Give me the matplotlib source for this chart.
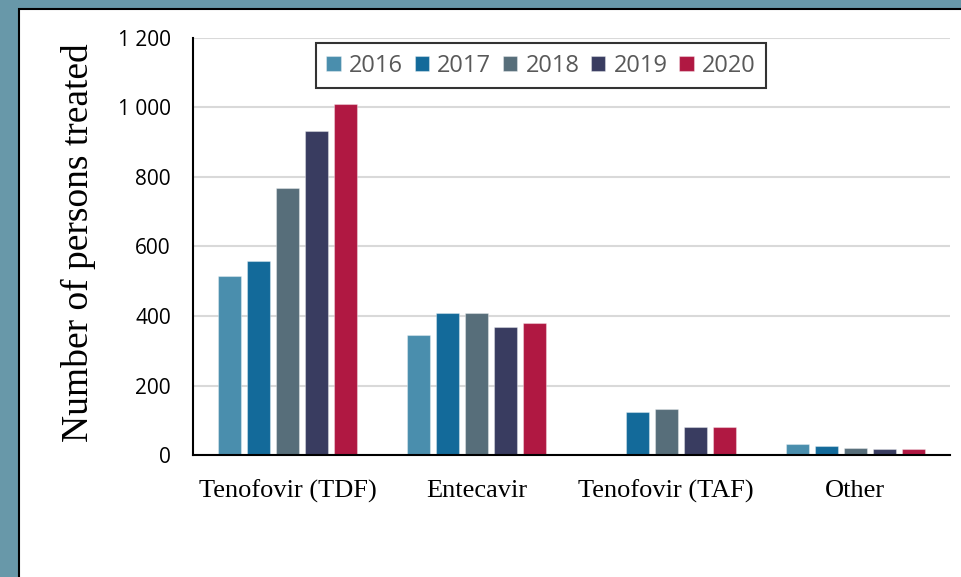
import matplotlib.pyplot as plt
import numpy as np
from matplotlib.patches import Rectangle

# dane
leki = ['Tenofovir (TDF)', 'Entecavir', 'Tenofovir (TAF)', 'Other']
lata = ['2016', '2017', '2018', '2019', '2020']
v2016 = [515, 345, 0, 31]
v2017 = [558, 410, 123, 27]
v2018 = [768, 410, 131, 20]
v2019 = [932, 368, 80, 16]
v2020 = [1010, 379, 80, 16]
kolory = ['#4A8EAD', '#136A9A', '#576E7A', '#393C60', '#B01842']
yticks = [0, 200, 400, 600, 800, 1000, 1200]

fig = plt.figure(figsize=(9.62, 5.77), dpi=100)
fig.patch.set_facecolor('#6898A9')

# biały panel z czarną ramką
panel = Rectangle((19 / 962, -0.01), 1, 1.01 - 9 / 577, transform=fig.transFigure,
                  facecolor='white', edgecolor='black', linewidth=1.5, zorder=-1)
fig.patches.append(panel)

ax = fig.add_axes([193 / 962, 1 - 455 / 577, (950 - 193) / 962, (455 - 38) / 577])
ax.set_facecolor('none')
ax.set_zorder(2)

serie = [v2016, v2017, v2018, v2019, v2020]
x = np.arange(len(leki)) + 0.5
slot = 0.1534
szer = 0.122
for i, (wart, kol, rok) in enumerate(zip(serie, kolory, lata)):
    ax.bar(x + (i - 2) * slot, wart, width=szer, color=kol, label=rok,
           edgecolor=(1, 1, 1, 0.35), linewidth=0.8, zorder=3)

ax.set_xlim(0, 4)
ax.set_ylim(0, 1200)
ax.set_yticks(yticks)
ax.set_yticklabels([f'{t:,}'.replace(',', ' ') for t in yticks],
                   family=['Open Sans', 'DejaVu Sans'], fontsize=15)
ax.set_xticks(x)
ax.set_xticklabels(leki, family=['Liberation Serif', 'DejaVu Serif'], fontsize=19)
ax.tick_params(axis='y', length=0, pad=16)
ax.tick_params(axis='x', length=0, pad=18)
ax.grid(axis='y', color='#D9D9D9', linewidth=1.5, zorder=0)
for s in ['top', 'right']:
    ax.spines[s].set_visible(False)
for s in ['left', 'bottom']:
    ax.spines[s].set_linewidth(1.5)
    ax.spines[s].set_zorder(4)

fig.text(78 / 962, 1 - 243 / 577, 'Number of persons treated', rotation=90,
         ha='center', va='center', family=['Liberation Serif', 'DejaVu Serif'],
         fontsize=27)

leg = ax.legend(loc='center', bbox_to_anchor=(541 / 962, 1 - 65.5 / 577),
                bbox_transform=fig.transFigure, ncol=5, frameon=True,
                fancybox=False, prop={'family': ['Open Sans', 'DejaVu Sans'], 'size': 17},
                handlelength=0.6, handleheight=0.6, handletextpad=0.35,
                columnspacing=0.5, borderpad=0.45)
leg.get_frame().set_edgecolor('black')
leg.get_frame().set_linewidth(1.5)
for t in leg.get_texts():
    t.set_color('#595959')

fig.savefig('out.png', dpi=100, facecolor=fig.get_facecolor())
